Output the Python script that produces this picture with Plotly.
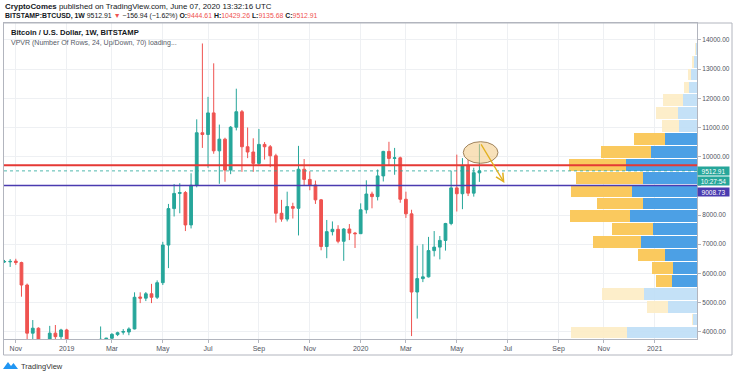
import plotly.graph_objects as go
import pandas as pd

# ---------------- data ----------------
week_start = "2018-10-22"
week_end = "2020-06-01"
opens = [6395, 6395, 6420, 6370, 5600, 3950, 4120, 3500, 3250, 3950, 3830, 4060,
         3550, 3540, 3530, 3420, 3650, 3600, 3740, 3775, 3900, 3985, 3990, 4095,
         5190, 5150, 5300, 5180, 5680, 6970, 8220, 8740, 8770, 7660, 9020, 10820,
         10760, 11500, 10200, 10600, 9540, 11010, 11540, 10340, 10160, 9770, 10420, 10340,
         10030, 8060, 7860, 8290, 8230, 9570, 9220, 9030, 8520, 6920, 7430, 7510,
         7100, 7520, 7380, 7360, 8180, 8720, 8630, 9340, 10180, 9940, 9960, 8540,
         8040, 5360, 5820, 5880, 6780, 6900, 7130, 7710, 8930, 8730, 9690, 8750, 9444.61]
highs = [6460, 6490, 6500, 6400, 5650, 4400, 4150, 3600, 4200, 4230, 4100, 4100,
         3720, 3640, 3560, 3720, 3720, 4180, 3790, 3950, 4000, 4090, 4150, 5350,
         5350, 5360, 5640, 5760, 7080, 8380, 9060, 9090, 8820, 9430, 11280, 13880,
         12050, 13200, 11100, 10650, 11050, 12330, 11600, 11000, 10630, 10950, 10500, 10400,
         10100, 8520, 8800, 8420, 10370, 9920, 9500, 9180, 8550, 7830, 7780, 7650,
         7550, 7690, 7420, 8400, 9190, 8800, 9560, 10200, 10510, 10300, 10000, 8800,
         8180, 6950, 7000, 7250, 7450, 7280, 7730, 9520, 10070, 9950, 9900, 9620, 10429.26]
lows = [6360, 6220, 6290, 5200, 3500, 3600, 3300, 3150, 3200, 3600, 3650, 3500,
        3500, 3460, 3380, 3370, 3580, 3580, 3680, 3700, 3850, 3900, 3880, 4080,
        4980, 5050, 4980, 5120, 5600, 6180, 7950, 8060, 7450, 7540, 8950, 10300,
        9620, 10100, 9070, 9140, 9400, 10900, 9480, 9950, 9480, 9700, 9900, 9640,
        7740, 7770, 7780, 7880, 7300, 9020, 8850, 8380, 6790, 6520, 7300, 7030,
        6430, 7140, 6870, 7350, 8050, 8230, 8500, 9150, 9700, 9380, 8420, 7900,
        3850, 4450, 5700, 5860, 6580, 6480, 6780, 7650, 8120, 8200, 8650, 8630, 9135.68]
closes = [6405, 6410, 6370, 5600, 3950, 4120, 3500, 3250, 3950, 3830, 4060, 3550,
          3540, 3530, 3420, 3650, 3600, 3740, 3775, 3910, 3965, 4005, 4095, 5180,
          5150, 5300, 5180, 5680, 6970, 8220, 8740, 8770, 7660, 9020, 10820, 10760,
          11500, 10200, 10600, 9540, 11010, 11540, 10340, 10160, 9770, 10420, 10340, 10030,
          8060, 7860, 8290, 8230, 9570, 9220, 9030, 8520, 6920, 7430, 7510, 7100,
          7520, 7380, 7360, 8180, 8720, 8630, 9340, 10180, 9940, 9960, 8540, 8040,
          5360, 5820, 5880, 6780, 6900, 7130, 7710, 8930, 8730, 9680, 8750, 9450, 9512.91]

# volume profile (VPVR, 24 rows of 442 USD; lowest row out of view)
vp_row_bottom = [3754, 4196, 4638, 5080, 5522, 5964, 6406, 6848, 7290, 7732, 8174, 8616,
                 9058, 9500, 9942, 10384, 10826, 11268, 11710, 12152, 12594, 13036, 13478]
vp_row_size = 442
vp_up = [70, 4, 29, 53, 25, 24, 32, 56, 44, 67, 54, 65, 54, 71, 46, 32, 18, 19, 14, 8, 6, 3, 1]
vp_down = [56, 1, 21, 42, 16, 21, 27, 48, 41, 60, 46, 61, 67, 57, 50, 31, 17, 22, 20, 5, 3, 2, 1]
vp_value_area = [0, 0, 0, 0, 1, 1, 1, 1, 1, 1, 1, 1, 1, 1, 1, 1, 0, 0, 0, 0, 0, 0, 0]

# levels and drawings
resistance_level = 9705
support_level = 9008.73
last_price = 9512.91
countdown = "10:27:54"
ellipse_x = ["2020-05-12", "2020-06-24"]
ellipse_y = [9773, 10514]
arrow_x = ["2020-06-02", "2020-07-02"]
arrow_y = [10470, 9098]

# axes
x_tick_dates = ["2018-11-05", "2019-01-07", "2019-03-04", "2019-05-06", "2019-07-01", "2019-09-02",
                "2019-11-04", "2020-01-06", "2020-03-02", "2020-05-04", "2020-07-06", "2020-09-07",
                "2020-11-02", "2021-01-04"]
x_tick_labels = ["Nov", "2019", "Mar", "May", "Jul", "Sep", "Nov", "2020", "Mar", "May", "Jul",
                 "Sep", "Nov", "2021"]
y_ticks = [4000, 5000, 6000, 7000, 8000, 9000, 10000, 11000, 12000, 13000, 14000]
# the 9000.00 label is hidden behind the price labels in the original
y_tick_labels = ["4000.00", "5000.00", "6000.00", "7000.00", "8000.00", "", "10000.00",
                 "11000.00", "12000.00", "13000.00", "14000.00"]
x_range = ["2018-10-21 09:00", "2021-02-25 10:00"]
y_range = [3750, 14582]

# ---------------- figure ----------------
W, H = 736, 375
L, R, T, B = 4, 697, 23, 339


def px(x):
    return (x - L) / (R - L)


def py(y):
    return (B - y) / (B - T)


FONT = "Liberation Sans"
UP, DOWN = "#26a69a", "#ef5350"
FRAME = "#b2b5be"

dates = pd.date_range(week_start, week_end, freq="7D")

fig = go.Figure()

vp_centers = [b + vp_row_size / 2 for b in vp_row_bottom]
up_cols = ["rgba(66,155,228,0.95)" if v else "rgba(190,222,246,0.9)" for v in vp_value_area]
dn_cols = ["rgba(250,198,85,0.95)" if v else "rgba(253,236,196,0.9)" for v in vp_value_area]
fig.add_trace(go.Bar(y=vp_centers, x=vp_up, orientation="h", xaxis="x2", yaxis="y",
                     width=vp_row_size * 0.92, marker=dict(color=up_cols, line=dict(width=0)),
                     showlegend=False, hoverinfo="skip"))
fig.add_trace(go.Bar(y=vp_centers, x=vp_down, orientation="h", xaxis="x2", yaxis="y",
                     width=vp_row_size * 0.92, marker=dict(color=dn_cols, line=dict(width=0)),
                     showlegend=False, hoverinfo="skip"))

fig.add_trace(go.Candlestick(
    x=dates, open=opens, high=highs, low=lows, close=closes,
    increasing=dict(line=dict(color=UP, width=1), fillcolor=UP),
    decreasing=dict(line=dict(color=DOWN, width=1), fillcolor=DOWN),
    whiskerwidth=0, showlegend=False, hoverinfo="skip"))

shapes = [
    dict(type="line", xref="paper", x0=0, x1=1, yref="y", y0=last_price, y1=last_price,
         line=dict(color="rgba(38,166,154,0.8)", width=1, dash="dot")),
    dict(type="line", xref="paper", x0=0, x1=1, yref="y", y0=resistance_level, y1=resistance_level,
         line=dict(color="#e53935", width=2)),
    dict(type="line", xref="paper", x0=0, x1=1, yref="y", y0=support_level, y1=support_level,
         line=dict(color="#4a3bb0", width=1.5)),
    dict(type="circle", xref="x", yref="y", x0=ellipse_x[0], x1=ellipse_x[1],
         y0=ellipse_y[0], y1=ellipse_y[1], fillcolor="rgba(242,200,130,0.55)",
         line=dict(color="rgba(150,120,80,0.9)", width=1)),
    # outer frame incl. price and time axis bands
    dict(type="rect", xref="paper", yref="paper", x0=px(3.5), x1=px(732), y0=py(355), y1=py(23),
         line=dict(color=FRAME, width=1), fillcolor="rgba(0,0,0,0)"),
    # TradingView logo
    dict(type="path", xref="paper", yref="paper",
         path=f"M {px(3)},{py(369)} L {px(8)},{py(362)} L {px(11)},{py(366)} L {px(13.5)},{py(363)} "
              f"L {px(18)},{py(369)} Z",
         fillcolor="#2196f3", line=dict(width=0)),
]

annotations = [
    dict(xref="paper", yref="paper", x=px(3), y=py(7), xanchor="left", yanchor="middle",
         showarrow=False, font=dict(family=FONT, size=7.9, color="#131722"),
         text="<b>CryptoComes</b> published on TradingView.com, June 07, 2020 13:32:16 UTC"),
    dict(xref="paper", yref="paper", x=px(3), y=py(16.5), xanchor="left", yanchor="middle",
         showarrow=False, font=dict(family=FONT, size=6.9, color="#131722"),
         text=(f"<b>BITSTAMP:BTCUSD, 1W</b> {last_price:.2f} <span style='color:{DOWN}'>▼</span> "
               f"−156.94 (−1.62%) <b>O:</b><span style='color:{DOWN}'>{opens[-1]:.2f}</span> "
               f"<b>H:</b><span style='color:{DOWN}'>{highs[-1]:.2f}</span> "
               f"<b>L:</b><span style='color:{DOWN}'>{lows[-1]:.2f}</span> "
               f"<b>C:</b><span style='color:{DOWN}'>{closes[-1]:.2f}</span>")),
    dict(xref="paper", yref="paper", x=px(9), y=py(32), xanchor="left", yanchor="middle",
         showarrow=False, font=dict(family=FONT, size=7.6, color="#131722"),
         text="<b>Bitcoin / U.S. Dollar, 1W, BITSTAMP</b>"),
    dict(xref="paper", yref="paper", x=px(9), y=py(42.5), xanchor="left", yanchor="middle",
         showarrow=False, font=dict(family=FONT, size=7, color="#555a66"),
         text="VPVR (Number Of Rows, 24, Up/Down, 70) loading..."),
    dict(xref="paper", yref="paper", x=px(19), y=py(366), xanchor="left", yanchor="middle",
         showarrow=False, font=dict(family=FONT, size=7.5, color="#333"), text="TradingView"),
    # price labels
    dict(xref="paper", yref="y", x=1, y=last_price, xanchor="left", yanchor="middle",
         showarrow=False, bgcolor=UP, width=31, height=8, borderpad=0,
         font=dict(family=FONT, size=6.5, color="white"), text=f"{last_price:.2f}"),
    dict(xref="paper", yref="y", x=1, y=last_price, yshift=-10.5, xanchor="left", yanchor="middle",
         showarrow=False, bgcolor=UP, width=31, height=8, borderpad=0,
         font=dict(family=FONT, size=6.5, color="white"), text=countdown),
    dict(xref="paper", yref="y", x=1, y=support_level, yshift=-6, xanchor="left", yanchor="middle",
         showarrow=False, bgcolor="#4a3bb0", width=31, height=8, borderpad=0,
         font=dict(family=FONT, size=6.5, color="white"), text=f"{support_level:.2f}"),
    # arrow drawing
    dict(xref="x", yref="y", axref="x", ayref="y", x=arrow_x[1], y=arrow_y[1],
         ax=arrow_x[0], ay=arrow_y[0], showarrow=True, arrowhead=5, arrowsize=1.2,
         arrowwidth=1.3, arrowcolor="#e2b020", text=""),
]

fig.update_layout(
    width=W, height=H,
    margin=dict(l=L, r=W - R, t=T, b=H - B, pad=0),
    paper_bgcolor="white", plot_bgcolor="white",
    barmode="stack", bargap=0,
    showlegend=False,
    font=dict(family=FONT, size=7, color="#50535e"),
    xaxis=dict(type="date", range=x_range, tickvals=x_tick_dates, ticktext=x_tick_labels,
               showgrid=True, gridcolor="#eef0f3", gridwidth=1, zeroline=False,
               showline=True, linecolor=FRAME, linewidth=1, mirror=True,
               ticks="outside", ticklen=3, tickcolor=FRAME,
               tickfont=dict(family=FONT, size=7, color="#50535e"),
               rangeslider=dict(visible=False), fixedrange=True),
    xaxis2=dict(overlaying="x", anchor="y", range=[R - L, 0], visible=False, fixedrange=True),
    yaxis=dict(side="right", range=y_range, tickvals=y_ticks, ticktext=y_tick_labels,
               showgrid=True, gridcolor="#eef0f3", gridwidth=1, zeroline=False,
               showline=True, linecolor=FRAME, linewidth=1, mirror=True,
               ticks="outside", ticklen=3, tickcolor=FRAME,
               tickfont=dict(family=FONT, size=6.5, color="#50535e"), fixedrange=True),
    shapes=shapes, annotations=annotations,
)

fig.write_html("out.html", config={"displayModeBar": False},
               post_script="document.body.style.margin='0';document.body.style.overflow='hidden';")
